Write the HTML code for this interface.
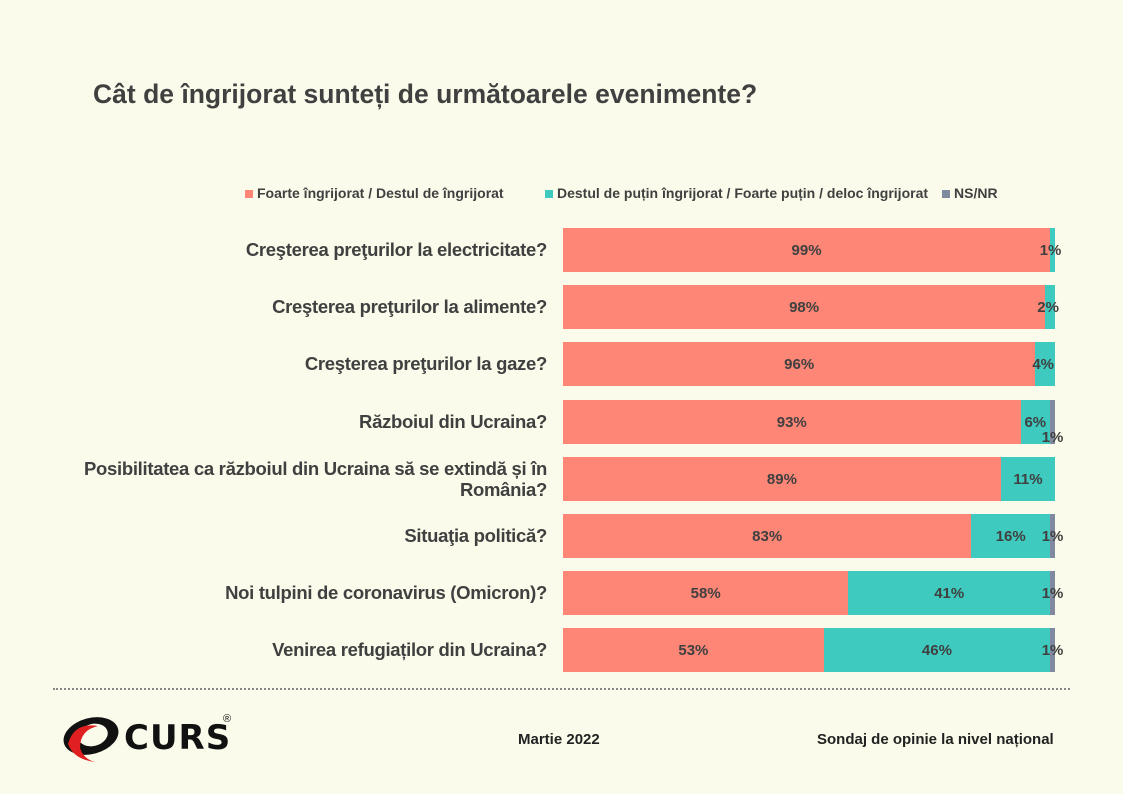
<!DOCTYPE html>
<html><head><meta charset="utf-8"><style>
body{margin:0;width:1123px;height:794px;background:#fafbea;font-family:"Liberation Sans",sans-serif;position:relative;overflow:hidden;color:#404040}
.a{position:absolute}
.t{left:93px;top:79px;font-size:26.5px;font-weight:bold;color:#404040}
.lab{right:576px;text-align:right;font-size:18.5px;font-weight:bold;color:#404040;line-height:21px;letter-spacing:-0.3px}
.bar{position:absolute;height:44px}
.p{background:#fe8676}.g{background:#3ecabe}.n{background:#8189a1}
.v{position:absolute;font-size:15px;font-weight:bold;color:#404040;transform:translateX(-50%);white-space:nowrap}
.lg{top:185px;font-size:14px;font-weight:bold;color:#404040;white-space:nowrap}
.sq{display:inline-block;width:8px;height:8px;margin-right:4px}
</style></head><body>
<div class="a t">Cât de îngrijorat sunteți de următoarele evenimente?</div>
<div class="a lg" style="left:245px"><span class="sq p"></span>Foarte îngrijorat / Destul de îngrijorat</div>
<div class="a lg" style="left:545px"><span class="sq g"></span>Destul de puțin îngrijorat / Foarte puțin / deloc îngrijorat</div>
<div class="a lg" style="left:942px"><span class="sq n"></span>NS/NR</div>
<div id="c"></div>
<div class="a" style="left:53px;top:688px;width:1017px;border-top:2px dotted #888"></div>
<svg class="a" style="left:62px;top:714px" width="60" height="50" viewBox="0 0 60 50">
<ellipse cx="29" cy="22" rx="28" ry="18" fill="#111" transform="rotate(-15 29 22)"/>
<ellipse cx="31" cy="21" rx="15" ry="11" fill="#fafbea" transform="rotate(-15 31 21)"/>
<path d="M6 30 Q12 8 36 12 Q18 16 18 34 Q22 46 34 48 Q12 46 6 30Z" fill="#e02020"/>
</svg>
<div class="a" style="left:124px;top:718px;font-size:34px;font-weight:900;color:#111;letter-spacing:1px;font-family:'DejaVu Sans',sans-serif">CURS</div>
<div class="a" style="left:223px;top:713px;font-size:11px;color:#111">®</div>
<div class="a" style="left:518px;top:731px;font-size:15px;font-weight:bold;color:#222">Martie 2022</div>
<div class="a" style="left:817px;top:731px;font-size:15px;font-weight:bold;color:#222">Sondaj de opinie la nivel național</div>
<script>
var rows=[["Creşterea preţurilor la electricitate?",99,1,0],["Creşterea preţurilor la alimente?",98,2,0],["Creşterea preţurilor la gaze?",96,4,0],["Războiul din Ucraina?",93,6,1],["Posibilitatea ca războiul din Ucraina să se extindă și în<br>România?",89,11,0],["Situaţia politică?",83,16,1],["Noi tulpini de coronavirus (Omicron)?",58,41,1],["Venirea refugiaților din Ucraina?",53,46,1]];
var h="",x0=563,W=492;
rows.forEach(function(r,i){var y=228+i*57.2,s=W/(r[1]+r[2]+r[3]);
var w1=r[1]*s,w2=r[2]*s,w3=r[3]*s;
var ly=r[0].indexOf("<br>")>0?y+1:y+11;
h+='<div class="a lab" style="top:'+ly+'px">'+r[0]+'</div>';
h+='<div class="bar p" style="left:'+x0+'px;top:'+y+'px;width:'+w1+'px"></div>';
h+='<div class="bar g" style="left:'+(x0+w1)+'px;top:'+y+'px;width:'+w2+'px"></div>';
if(w3)h+='<div class="bar n" style="left:'+(x0+w1+w2)+'px;top:'+y+'px;width:'+w3+'px"></div>';
h+='<div class="v" style="left:'+(x0+w1/2)+'px;top:'+(y+14)+'px">'+r[1]+'%</div>';
var gx=r[2]<5?x0+w1+w2/2-2:x0+w1+w2/2;
h+='<div class="v" style="left:'+gx+'px;top:'+(y+14)+'px">'+r[2]+'%</div>';
if(r[3]){var ny=(i==3)?y+29:y+14;h+='<div class="v" style="left:'+(x0+w1+w2+w3/2)+'px;top:'+ny+'px">'+r[3]+'%</div>';}
});
document.getElementById("c").innerHTML=h;
</script>
</body></html>
